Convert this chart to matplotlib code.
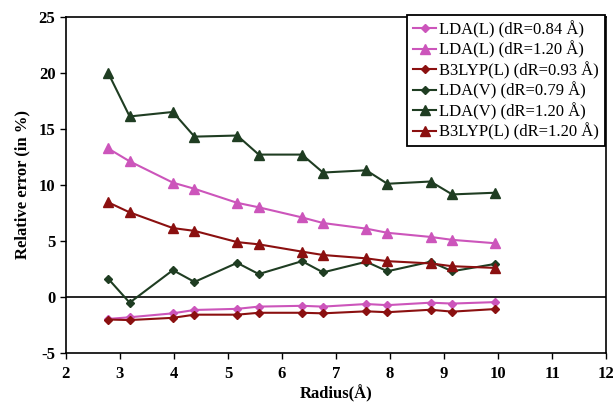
import matplotlib
matplotlib.use("Agg")
import matplotlib.pyplot as plt

plt.rcParams['font.family'] = ['Liberation Serif', 'DejaVu Serif']
plt.rcParams['axes.unicode_minus'] = False

# radius values (Å)
radius = [2.78, 3.18, 3.98, 4.38, 5.17, 5.57, 6.37, 6.76, 7.56, 7.95, 8.75, 9.15, 9.94]

# relative errors (%)
lda_l_084 = [-1.95, -1.8, -1.45, -1.15, -1.05, -0.85, -0.78, -0.85, -0.62, -0.72, -0.5, -0.58, -0.45]
lda_l_120 = [13.25, 12.1, 10.2, 9.65, 8.4, 8.0, 7.1, 6.6, 6.1, 5.73, 5.36, 5.1, 4.8]
b3lyp_093 = [-2.0, -2.05, -1.85, -1.57, -1.57, -1.4, -1.4, -1.45, -1.27, -1.35, -1.13, -1.3, -1.07]
lda_v_079 = [1.65, -0.5, 2.4, 1.35, 3.05, 2.05, 3.2, 2.2, 3.15, 2.3, 3.15, 2.3, 2.95]
lda_v_120 = [20.0, 16.1, 16.5, 14.3, 14.4, 12.7, 12.7, 11.1, 11.3, 10.1, 10.3, 9.15, 9.3]
b3lyp_120 = [8.45, 7.55, 6.15, 5.9, 4.9, 4.7, 4.05, 3.75, 3.45, 3.2, 3.0, 2.75, 2.6]

labels = ["LDA(L) (dR=0.84 Å)", "LDA(L) (dR=1.20 Å)", "B3LYP(L) (dR=0.93 Å)",
          "LDA(V) (dR=0.79 Å)", "LDA(V) (dR=1.20 Å)", "B3LYP(L) (dR=1.20 Å)"]

pink = "#cc55bb"
red = "#8b1010"
green = "#1f3d22"

fig = plt.figure(figsize=(6.16, 4.05), dpi=100)
ax = fig.add_axes([0.107, 0.128, 0.877, 0.831])

ax.axhline(0, color="black", lw=1.2, zorder=1)

series = [
    (lda_l_084, pink, "D", 4.5),
    (lda_l_120, pink, "^", 6.5),
    (b3lyp_093, red, "D", 4.5),
    (lda_v_079, green, "D", 4.5),
    (lda_v_120, green, "^", 6.5),
    (b3lyp_120, red, "^", 6.5),
]
for (vals, col, mk, ms), lab in zip(series, labels):
    ax.plot(radius, vals, color=col, marker=mk, markersize=ms, lw=1.5, label=lab, zorder=3)

ax.set_xlim(2, 12)
ax.set_ylim(-5, 25)
ax.set_xticks(range(2, 13))
ax.set_yticks(range(-5, 26, 5))
ax.tick_params(direction="out", length=4, width=1, labelsize=12)
ax.tick_params(axis="x", pad=5)
for t in ax.get_xticklabels() + ax.get_yticklabels():
    t.set_fontweight("bold")
for s in ax.spines.values():
    s.set_linewidth(1.2)

ax.set_xlabel("Radius(Å)", fontsize=12, fontweight="bold", labelpad=2)
ax.set_ylabel("Relative error (in %)", fontsize=12, fontweight="bold", labelpad=6)

leg = ax.legend(loc="upper right", bbox_to_anchor=(0.997, 1.005), borderaxespad=0,
                fontsize=12, frameon=True, fancybox=False, shadow=False,
                handlelength=1.4, handletextpad=0.15, labelspacing=0.18,
                borderpad=0.35, edgecolor="black", framealpha=1)
leg.get_frame().set_linewidth(1.3)

fig.savefig("out.png", dpi=100)
